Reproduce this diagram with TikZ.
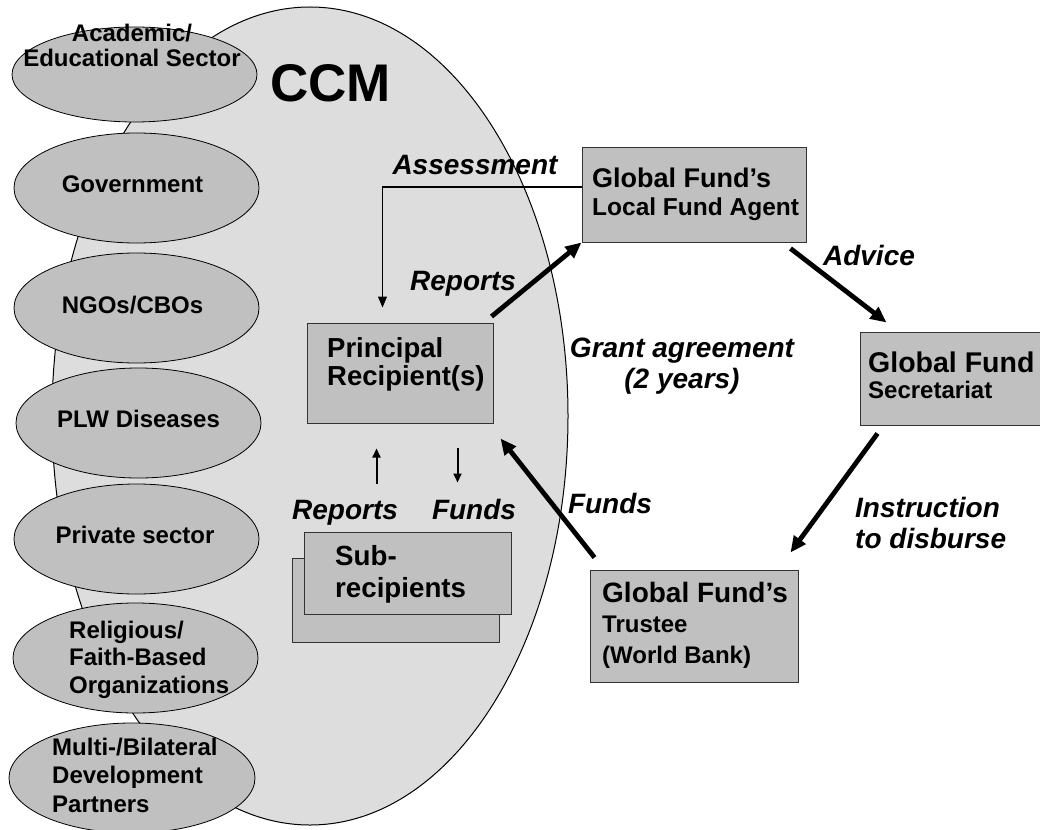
\documentclass[tikz,border=0pt]{standalone}
\usepackage{fontspec}
\setmainfont{Liberation Sans}
\usetikzlibrary{shapes.geometric,arrows.meta,calc}
\definecolor{ccmfill}{HTML}{DDDDDD}
\definecolor{partfill}{HTML}{C0C0C0}
\definecolor{edgegray}{HTML}{333333}
\begin{document}
\begin{tikzpicture}[x=1pt,y=-1pt,
  sector/.style={ellipse, draw=black, line width=0.8pt, fill=partfill, inner sep=0pt,
    minimum width=245pt, minimum height=110pt},
  sectortext/.style={inner sep=0pt, font=\fontsize{24}{25}\selectfont\bfseries},
  box/.style={rectangle, draw=edgegray, line width=1pt, fill=partfill, inner sep=0pt},
  boxtext/.style={inner sep=0pt, anchor=base west, align=left},
  flowlabel/.style={inner sep=0pt, font=\fontsize{28}{31}\selectfont\bfseries\itshape},
  bigarrow/.style={line width=4.8pt, -{Triangle[length=16pt,width=14pt]}},
  thinarrow/.style={line width=1.1pt, black, -{Triangle[length=11pt,width=9pt]}},
  smallarrow/.style={line width=2pt, -{Triangle[length=9pt,width=8pt]}}
]
\useasboundingbox (0,0) rectangle (1040,829);
\clip (0,0) rectangle (1040,829);

% CCM big ellipse
\node[ellipse, draw=black, line width=1pt, fill=ccmfill, inner sep=0pt,
  minimum width=516pt, minimum height=818pt] (ccm) at (310,416) {};
\node[inner sep=0pt, anchor=base west, font=\fontsize{53}{53}\selectfont\bfseries] (ccmtitle) at (270,102) {CCM};

% sectors
\node[sector, minimum height=95pt] (acad) at (134.5,74.5) {};
\node[sectortext, anchor=base, align=center] (acadt) at (132,67) {Academic/\\Educational Sector};
\node[sector] (gov) at (136.5,188) {};
\node[sectortext, anchor=base] (govt) at ($(gov.center)+(-4,5)$) {Government};
\node[sector] (ngo) at (136.5,308) {};
\node[sectortext, anchor=base] (ngot) at ($(ngo.center)+(-4,5)$) {NGOs/CBOs};
\node[sector] (plw) at (138.5,423) {};
\node[sectortext, anchor=base] (plwt) at ($(plw.center)+(0,4)$) {PLW Diseases};
\node[sector] (priv) at (136.5,539) {};
\node[sectortext, anchor=base] (privt) at ($(priv.center)+(-1.5,4)$) {Private sector};
\node[sector] (relig) at (135.5,658) {};
\node[sectortext, anchor=base west, align=left, font=\fontsize{24}{27.5}\selectfont\bfseries] (religt) at (69,693) {Religious/\\Faith-Based\\Organizations};
\node[sector, minimum width=246pt] (multi) at (132,778) {};
\node[sectortext, anchor=base west, align=left, font=\fontsize{24}{28.5}\selectfont\bfseries] (multit) at (52,812) {Multi-/Bilateral\\Development\\Partners};

% boxes
\node[box, minimum width=224pt, minimum height=94pt] (lfa) at (694,195) {};
\node[boxtext, font=\fontsize{24.5}{28}\selectfont\bfseries] (lfat) at (592,215)
  {\fontsize{27}{28}\selectfont Global Fund’s\\Local Fund Agent};
\node[box, minimum width=190pt, minimum height=93pt] (sec) at (955,378.5) {};
\node[boxtext, font=\fontsize{24}{26}\selectfont\bfseries] (sect) at (868,398)
  {\fontsize{28.5}{26}\selectfont Global Fund\\Secretariat};
\node[box, minimum width=208pt, minimum height=112pt] (tru) at (694,626) {};
\node[boxtext, font=\fontsize{24}{30.5}\selectfont\bfseries] (trut) at (602,663)
  {\fontsize{28}{30.5}\selectfont Global Fund’s\\Trustee\\(World Bank)};
\node[box, minimum width=186pt, minimum height=100pt] (pr) at (400,373) {};
\node[boxtext, font=\fontsize{27.5}{28}\selectfont\bfseries] (prt) at (327,385)
  {Principal\\Recipient(s)};
\node[box, minimum width=207pt, minimum height=84pt] (subback) at (395.5,600) {};
\node[box, minimum width=207pt, minimum height=82pt] (subfront) at (407.5,573) {};
\node[boxtext, font=\fontsize{27.7}{32}\selectfont\bfseries] (subt) at (335,597)
  {Sub-\\recipients};

% connectors
\coordinate (asEnd) at ($(pr.north west)+(76,-15)$);
\draw[thinarrow] ([yshift=8pt]lfa.west) -| (asEnd);
\draw[bigarrow] ($(pr.north east)+(-2,-6)$) -- (lfa.south west);
\draw[bigarrow] ($(lfa.south east)+(-16,6)$) -- ($(sec.north west)+(27,-9)$);
\draw[bigarrow] ($(sec.south west)+(18,8)$) -- ($(tru.north east)+(-8,-17)$);
\draw[bigarrow] ($(tru.north west)+(5,-12)$) -- ($(pr.south east)+(7,15)$);
\draw[smallarrow] ($(pr.south west)+(70,60)$) -- ($(pr.south west)+(70,25)$);
\draw[smallarrow] ($(pr.south west)+(151,24)$) -- ($(pr.south west)+(151,59)$);

% labels
\node[flowlabel, anchor=base] (lAssess) at (475,175) {Assessment};
\node[flowlabel, anchor=base] (lRep1) at (463,290) {Reports};
\node[flowlabel, anchor=base, align=center] (lGrant) at (682,388) {Grant agreement\\(2 years)};
\node[flowlabel, anchor=base] (lAdv) at (869,265) {Advice};
\node[flowlabel, anchor=base] (lFund1) at (610,513) {Funds};
\node[flowlabel, anchor=base west, align=left] (lInstr) at (855,548) {Instruction\\to disburse};
\node[flowlabel, anchor=base] (lRep2) at (345,519) {Reports};
\node[flowlabel, anchor=base] (lFund2) at (474,519) {Funds};
\end{tikzpicture}
\end{document}
